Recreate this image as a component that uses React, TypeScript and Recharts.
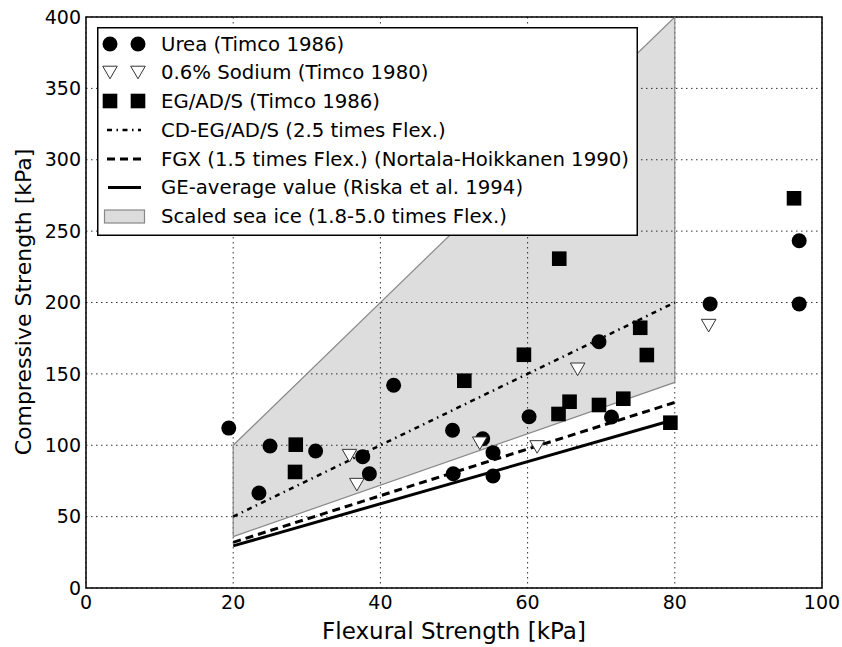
import React from 'react';
import {
  ComposedChart, XAxis, YAxis, CartesianGrid, Scatter, Line, Area, ReferenceLine, ReferenceArea,
} from 'recharts';

// ---- data ----
const xTicks = [0, 20, 40, 60, 80, 100];
const yTicks = [0, 50, 100, 150, 200, 250, 300, 350, 400];

const ureaX = [19.4, 23.5, 25.0, 31.2, 37.6, 38.5, 41.8, 49.8, 49.9, 53.9, 55.3, 55.3, 60.2, 69.7, 71.4, 84.8, 96.9, 96.9];
const ureaY = [112, 66.5, 99.5, 96, 92, 80, 142, 110.5, 80, 104.6, 94.8, 78.5, 120, 172.5, 119.8, 199, 199, 243.3];

const sodiumX = [35.8, 36.8, 53.5, 61.3, 66.8, 84.6];
const sodiumY = [92.7, 72.4, 101.4, 98.8, 153.2, 183.8];

const egX = [28.5, 28.4, 51.4, 59.5, 64.3, 64.2, 65.7, 69.7, 73.0, 75.3, 76.2, 79.4, 96.2];
const egY = [100.4, 81.3, 145.2, 163.4, 230.7, 121.9, 130.5, 128.2, 132.6, 182.3, 163.2, 115.8, 273];

const lineX = [20, 80];
const cdValues = [50, 200];
const fgxValues = [32, 130];
const geValues = [29.5, 118];
const iceLow = [36, 144];
const iceHigh = [100, 400];

const legendLabels = [
  'Urea (Timco 1986)',
  '0.6% Sodium (Timco 1980)',
  'EG/AD/S (Timco 1986)',
  'CD-EG/AD/S (2.5 times Flex.)',
  'FGX (1.5 times Flex.) (Nortala-Hoikkanen 1990)',
  'GE-average value (Riska et al. 1994)',
  'Scaled sea ice (1.8-5.0 times Flex.)',
];

const toPoints = (xs: number[], ys: number[]) => xs.map((x, i) => ({ x, y: ys[i] }));
const ureaData = toPoints(ureaX, ureaY);
const sodiumData = toPoints(sodiumX, sodiumY);
const egData = toPoints(egX, egY);
const lineData = lineX.map((x, i) => ({
  x,
  cd: cdValues[i],
  fgx: fgxValues[i],
  ge: geValues[i],
  ice: [iceLow[i], iceHigh[i]],
}));

const FONT = '"DejaVu Sans", sans-serif';

const CircleShape = (p: any) => <circle cx={p.cx} cy={p.cy} r={7.5} fill="#000" />;
const SquareShape = (p: any) => <rect x={p.cx - 7.3} y={p.cy - 7.3} width={14.6} height={14.6} fill="#000" />;
const TriShape = (p: any) => (
  <polygon
    points={`${p.cx - 7.3},${p.cy - 6.3} ${p.cx + 7.3},${p.cy - 6.3} ${p.cx},${p.cy + 6.3}`}
    fill="#fff"
    stroke="#333"
    strokeWidth={1}
  />
);

const CD_DASH = '5 4.5 1.5 4.5';
const FGX_DASH = '8 5';

function LegendBox() {
  const rowY = [17, 45.5, 74, 103, 132, 160.5, 189.5];
  const m1 = 13;
  const m2 = 41;
  return (
    <svg
      width={541}
      height={209}
      style={{ position: 'absolute', left: 96.5, top: 26.5 }}
    >
      <rect x={0.75} y={0.75} width={539.5} height={207.5} fill="#fff" stroke="#000" strokeWidth={1.5} />
      <circle cx={m1} cy={rowY[0]} r={7.5} fill="#000" />
      <circle cx={m2} cy={rowY[0]} r={7.5} fill="#000" />
      <TriShape cx={m1} cy={rowY[1]} />
      <TriShape cx={m2} cy={rowY[1]} />
      <SquareShape cx={m1} cy={rowY[2]} />
      <SquareShape cx={m2} cy={rowY[2]} />
      <line x1={10} x2={44} y1={rowY[3]} y2={rowY[3]} stroke="#000" strokeWidth={2.5} strokeDasharray={CD_DASH} />
      <line x1={10} x2={45} y1={rowY[4]} y2={rowY[4]} stroke="#000" strokeWidth={3} strokeDasharray={FGX_DASH} />
      <line x1={11} x2={44} y1={rowY[5]} y2={rowY[5]} stroke="#000" strokeWidth={3} />
      <rect x={7.5} y={rowY[6] - 6.5} width={40} height={13} fill="#dcdcdc" stroke="#888" strokeWidth={1.2} />
      {legendLabels.map((t, i) => (
        <text key={i} x={64} y={rowY[i]} dominantBaseline="central" fontFamily={FONT} fontSize={19.7} fill="#000">
          {t}
        </text>
      ))}
    </svg>
  );
}

export default function App() {
  return (
    <div style={{ position: 'absolute', left: 0, top: 0, width: 842, height: 647, background: '#fff', fontFamily: FONT }}>
      <ComposedChart
        width={842}
        height={647}
        data={lineData}
        margin={{ top: 17, right: 20, bottom: 29, left: 26 }}
      >
        <CartesianGrid stroke="#333" strokeWidth={1} strokeDasharray="1.5 3.5" />
        <XAxis
          dataKey="x"
          type="number"
          domain={[0, 100]}
          ticks={xTicks}
          allowDataOverflow
          height={30}
          tickLine={false}
          tickSize={0}
          tickMargin={8}
          axisLine={false}
          tick={{ fill: '#000', fontSize: 19, fontFamily: FONT }}
        />
        <YAxis
          type="number"
          domain={[0, 400]}
          ticks={yTicks}
          allowDataOverflow
          width={60}
          tickLine={false}
          tickSize={0}
          tickMargin={5}
          axisLine={false}
          tick={{ fill: '#000', fontSize: 19, fontFamily: FONT }}
        />
        <Area
          type="linear"
          dataKey="ice"
          fill="#000"
          fillOpacity={0.135}
          stroke="#888"
          strokeWidth={1.2}
          isAnimationActive={false}
          dot={false}
          activeDot={false}
        />
        <ReferenceLine
          segment={[{ x: lineX[1], y: iceLow[1] }, { x: lineX[1], y: iceHigh[1] }]}
          stroke="#888"
          strokeWidth={1.2}
        />
        <ReferenceLine
          segment={[{ x: lineX[0], y: iceLow[0] }, { x: lineX[0], y: iceHigh[0] }]}
          stroke="#888"
          strokeWidth={1.2}
        />
        <Scatter data={ureaData} dataKey="y" shape={CircleShape} isAnimationActive={false} />
        <Scatter data={sodiumData} dataKey="y" shape={TriShape} isAnimationActive={false} />
        <Scatter data={egData} dataKey="y" shape={SquareShape} isAnimationActive={false} />
        <Line type="linear" dataKey="ge" stroke="#000" strokeWidth={3} dot={false} activeDot={false} isAnimationActive={false} />
        <Line type="linear" dataKey="fgx" stroke="#000" strokeWidth={3} strokeDasharray={FGX_DASH} dot={false} activeDot={false} isAnimationActive={false} />
        <Line type="linear" dataKey="cd" stroke="#000" strokeWidth={2.5} strokeDasharray={CD_DASH} dot={false} activeDot={false} isAnimationActive={false} />
        <ReferenceArea x1={0} x2={100} y1={0} y2={400} fill="none" stroke="#000" strokeWidth={1.5} ifOverflow="visible" />
      </ComposedChart>
      <LegendBox />
      <div
        style={{
          position: 'absolute', left: 454, top: 631, transform: 'translate(-50%, -50%)',
          fontSize: 23, lineHeight: 1, whiteSpace: 'nowrap', color: '#000',
        }}
      >
        Flexural Strength [kPa]
      </div>
      <div
        style={{
          position: 'absolute', left: 24, top: 302, transform: 'translate(-50%, -50%) rotate(-90deg)',
          fontSize: 22, lineHeight: 1, whiteSpace: 'nowrap', color: '#000',
        }}
      >
        Compressive Strength [kPa]
      </div>
    </div>
  );
}
